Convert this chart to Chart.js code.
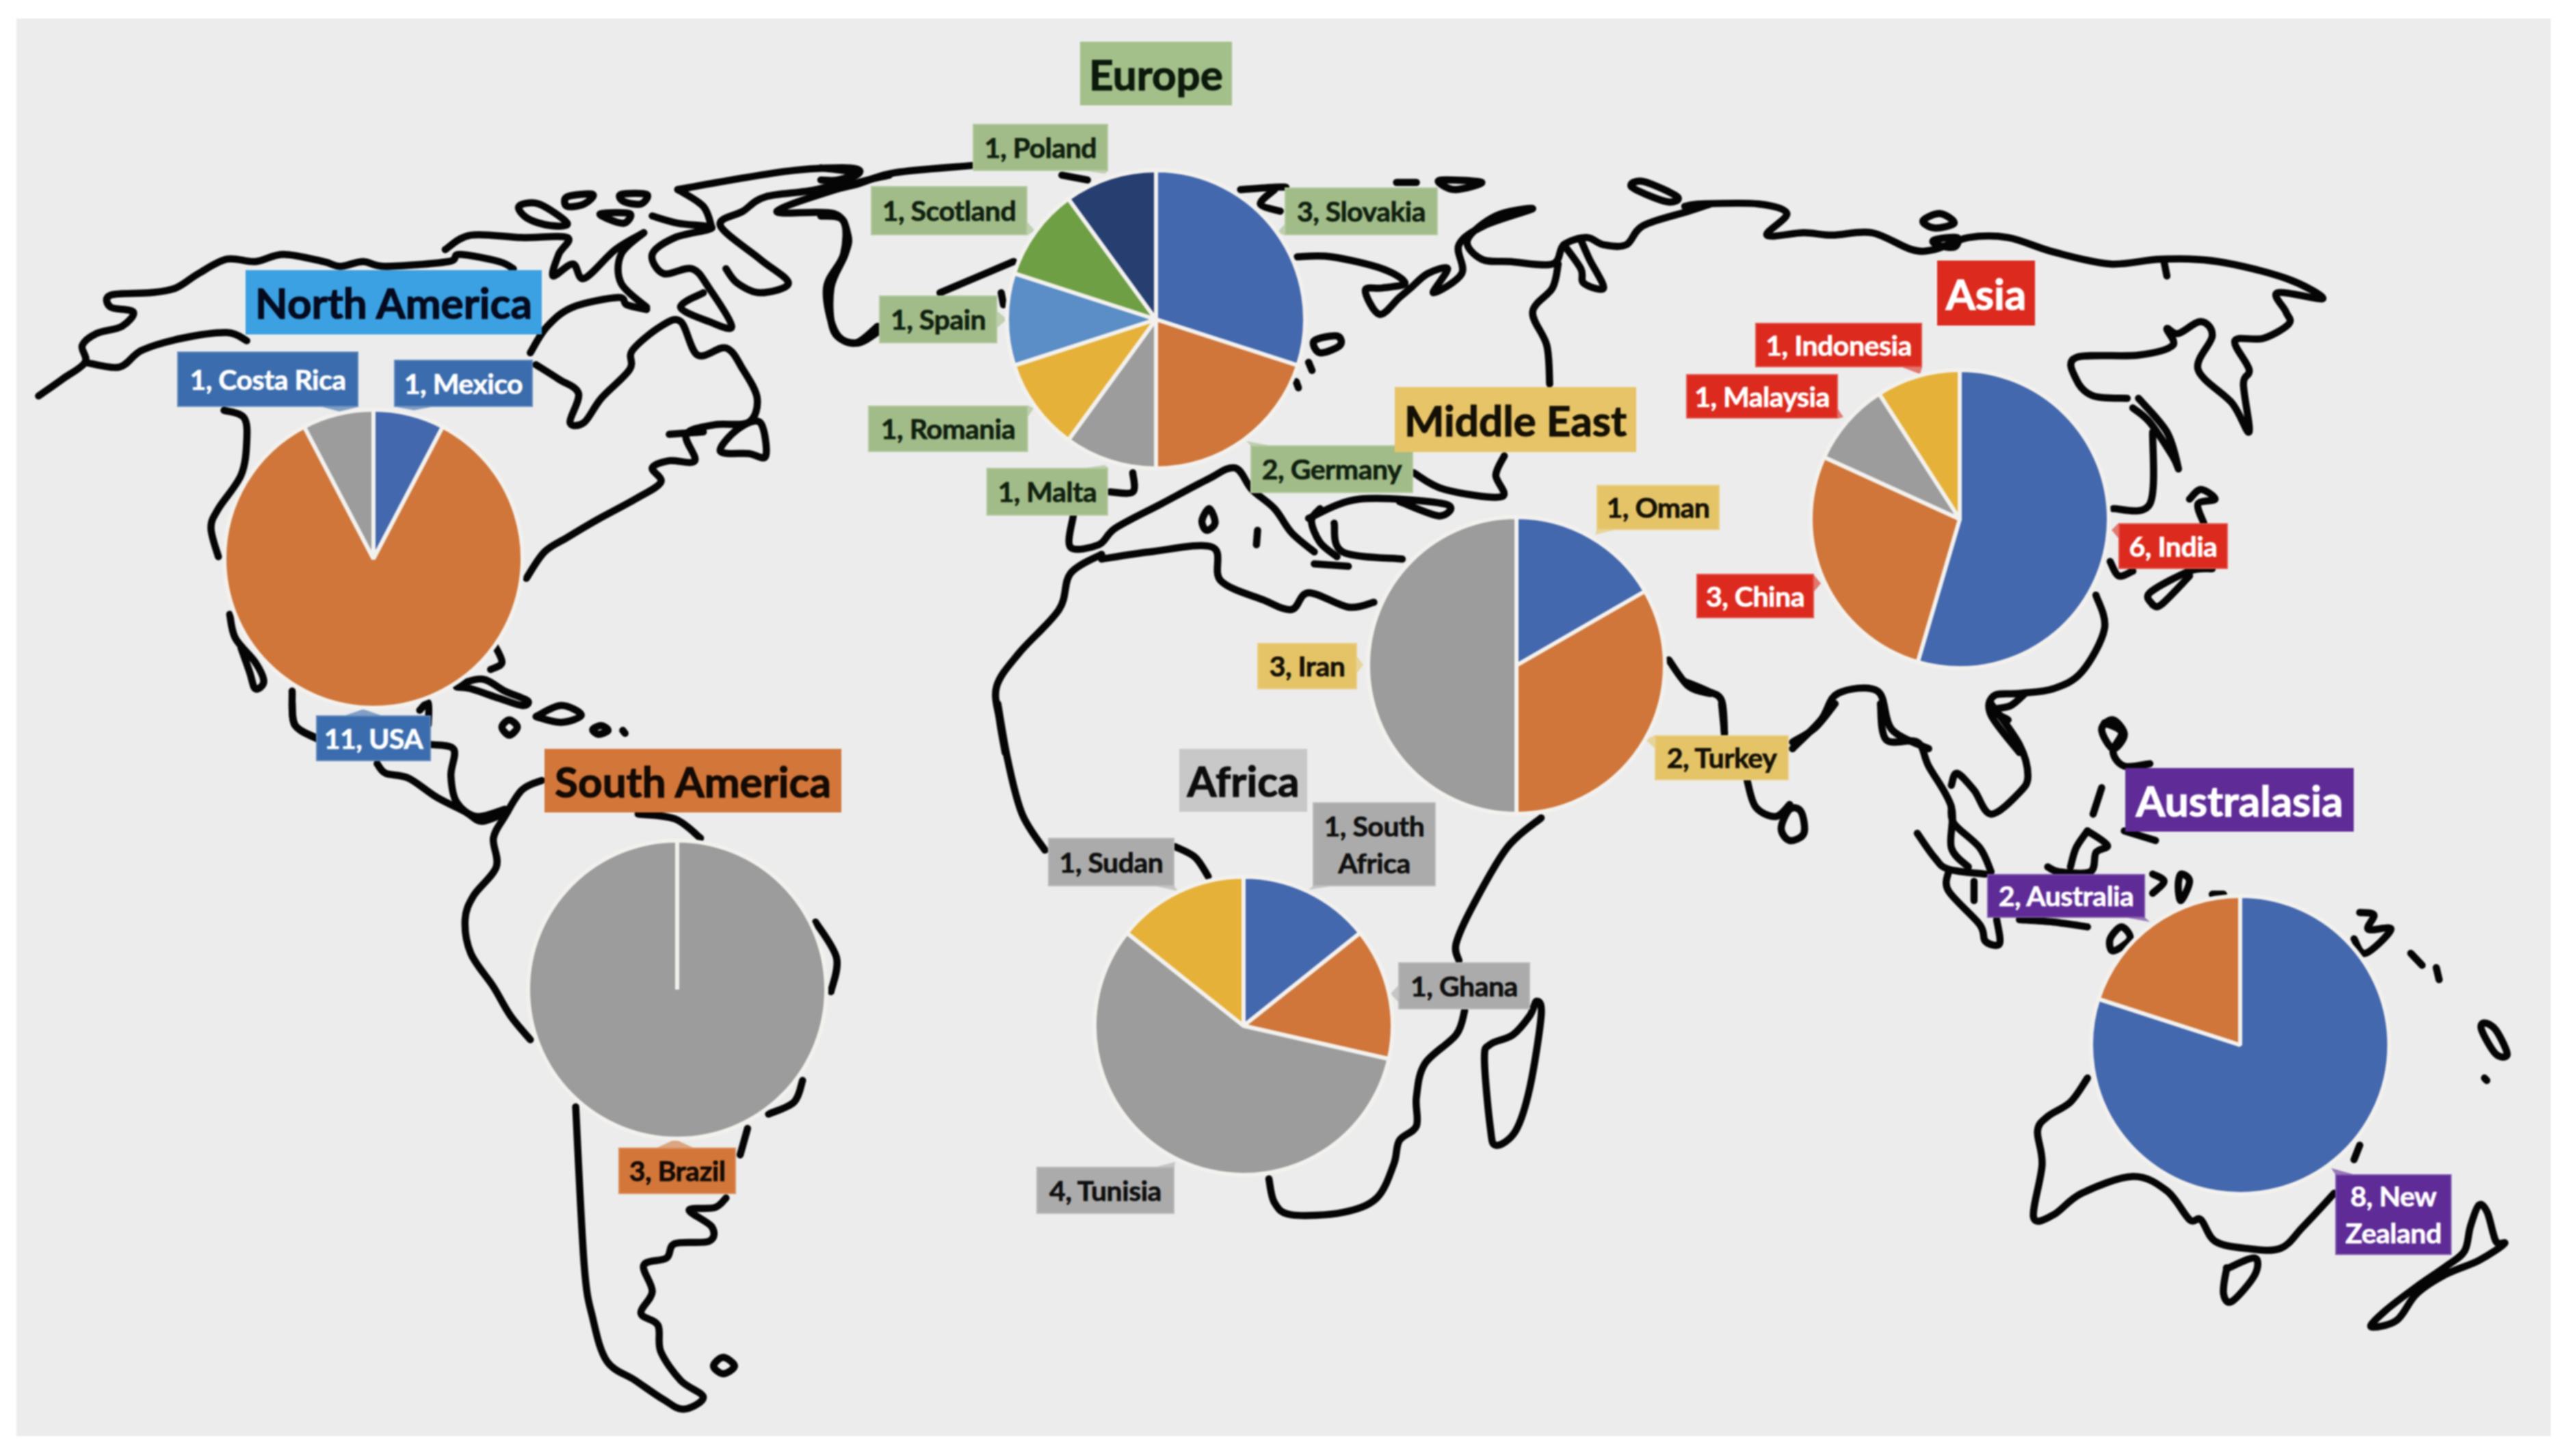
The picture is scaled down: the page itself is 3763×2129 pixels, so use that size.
<!DOCTYPE html>
<html>
<head>
<meta charset="utf-8">
<title>World map of pies</title>
<script src="https://cdn.jsdelivr.net/npm/chart.js@4"></script>
<style>
  html, body { margin: 0; background: #fff; overflow: hidden; }
  #page { position: relative; width: 3763px; height: 2129px; font-family: Lato, sans-serif; font-weight: 700; filter: blur(1px); }
  #panel { position: absolute; left: 24px; top: 27px; width: 3705px; height: 2073px; background: #ececec; }
  #map { position: absolute; left: 0; top: 0; }
  .pie { position: absolute; }
  .tag { position: absolute; box-sizing: border-box; display: flex; align-items: center; justify-content: center;
         text-align: center; line-height: 54px; font-size: 41px; letter-spacing: -0.5px; -webkit-text-stroke: 0.7px currentColor;
         border: 2px solid rgba(255,255,255,0.18); }
  .title { font-size: 62px; border: 0; letter-spacing: 0; white-space: nowrap; -webkit-text-stroke: 1.2px currentColor; }
</style>
</head>
<body>
<div id="page">
  <div id="panel"></div>
  <svg id="map" width="3763" height="2129"></svg>
</div>
<script>
// =====================
// Data
// =====================
var naCountries = ["Mexico", "USA", "Costa Rica"];
var naValues = [1, 11, 1];

var euCountries = ["Slovakia", "Germany", "Malta", "Romania", "Spain", "Scotland", "Poland"];
var euValues = [3, 2, 1, 1, 1, 1, 1];

var meCountries = ["Oman", "Turkey", "Iran"];
var meValues = [1, 2, 3];

var asCountries = ["India", "China", "Malaysia", "Indonesia"];
var asValues = [6, 3, 1, 1];

var saCountries = ["Brazil"];
var saValues = [3];

var afCountries = ["South Africa", "Ghana", "Tunisia", "Sudan"];
var afValues = [1, 1, 4, 1];

var auCountries = ["New Zealand", "Australia"];
var auValues = [8, 2];

var blue = '#4468ae', orange = '#d0763a', gray = '#9c9c9c', yellow = '#e6b138',
    lightBlue = '#5b8dc6', green = '#6f9f45', navy = '#263f70';

// boxes: x0, y0, x1, y1, tip x, tip y (same order as the countries)
var regions = [
  { id: 'na', title: 'North America', titleBox: [359, 395, 792, 489], titleColor: '#3ba1e2', titleText: '#050a1e',
    countries: naCountries, values: naValues, colors: [blue, orange, gray],
    cx: 546, cy: 817, r: 218, tag: '#3b6cad', text: '#fff',
    boxes: [[576, 526, 779, 595, 605, 600], [462, 1046, 630, 1113, 531, 1037], [259, 514, 524, 595, 497, 602]] },
  { id: 'eu', title: 'Europe', titleBox: [1579, 61, 1801, 154], titleColor: '#a3bf8a', titleText: '#0c1a0c',
    countries: euCountries, values: euValues, colors: [blue, orange, gray, yellow, lightBlue, green, navy],
    cx: 1690, cy: 467, r: 218, tag: '#a1bc88', text: '#10200f',
    boxes: [[1878, 274, 2102, 344, 1867, 340], [1828, 651, 2066, 721, 1822, 645], [1442, 684, 1620, 754, 1615, 680],
            [1269, 593, 1503, 661, 1511, 597], [1285, 432, 1458, 502, 1472, 467], [1273, 272, 1502, 344, 1513, 337],
            [1422, 181, 1620, 250, 1615, 254]] },
  { id: 'me', title: 'Middle East', titleBox: [2039, 566, 2392, 661], titleColor: '#e8c468', titleText: '#141005',
    countries: meCountries, values: meValues, colors: [blue, orange, gray],
    cx: 2217, cy: 973, r: 217, tag: '#e5c468', text: '#141005',
    boxes: [[2334, 709, 2514, 775, 2332, 782], [2419, 1075, 2615, 1141, 2406, 1082], [1838, 940, 1984, 1008, 1993, 972]] },
  { id: 'as', title: 'Asia', titleBox: [2832, 381, 2975, 476], titleColor: '#dc2a1e', titleText: '#fff',
    countries: asCountries, values: asValues, colors: [blue, orange, gray, yellow],
    cx: 2865, cy: 759, r: 218, tag: '#dc2a1e', text: '#fff',
    boxes: [[3097, 765, 3257, 832, 3087, 775], [2480, 839, 2652, 904, 2662, 853], [2465, 547, 2687, 612, 2695, 610],
            [2566, 472, 2810, 537, 2807, 547]] },
  { id: 'sa', title: 'South America', titleBox: [796, 1095, 1230, 1188], titleColor: '#d2763a', titleText: '#140a04',
    countries: saCountries, values: saValues, colors: [gray],
    cx: 990, cy: 1447, r: 218, tag: '#d2763a', text: '#140a04',
    boxes: [[904, 1678, 1076, 1746, 987, 1666]] },
  { id: 'af', title: 'Africa', titleBox: [1724, 1095, 1911, 1187], titleColor: '#c8c8c8', titleText: '#0c0c0c',
    countries: afCountries, values: afValues, colors: [blue, orange, gray, yellow],
    cx: 1818, cy: 1500, r: 218, tag: '#ababab', text: '#0f0f0f',
    boxes: [[1919, 1173, 2099, 1296, 1913, 1301], [2044, 1407, 2237, 1476, 2033, 1453], [1515, 1706, 1717, 1775, 1718, 1699],
            [1532, 1225, 1717, 1296, 1722, 1303]] },
  { id: 'au', title: 'Australasia', titleBox: [3107, 1123, 3441, 1216], titleColor: '#5f2b96', titleText: '#fff',
    countries: auCountries, values: auValues, colors: [blue, orange],
    cx: 3275, cy: 1528, r: 218, tag: '#5f2b96', text: '#fff',
    boxes: [[3414, 1717, 3584, 1835, 3408, 1708], [2905, 1278, 3136, 1342, 3143, 1348]] }
];

// =====================
// Map outline, traced by hand. Each group has an origin and a scale.
// =====================
var coastGroups = [
  { ox: 0, oy: 0, lines: [
    [68,825,110,790,150,755,145,720,170,695,215,680,235,650,195,640,195,615,265,610,310,600,350,570,400,540,450,545,500,530,570,545,600,555,640,545,680,555,790,545,810,530,880,545,905,560],
    [150,755,210,765,250,730,320,705,400,693,435,710],
    [395,855,430,870,435,920,425,990,385,1060,372,1100,385,1160],
    [405,1280,415,1330,450,1380,465,1420,450,1435,440,1400,425,1350],
    [515,1440,520,1510,560,1540],
    [945,760,985,790,1020,820,1005,880,1030,880,1060,830,1110,770,1115,730,1165,680,1200,670,1230,740,1280,725,1310,770,1335,830,1320,880,1260,885,1210,905,1225,960,1180,960,1150,975,1165,1005,1120,1040,1050,1085,1000,1120,960,1150,928,1205],
    [935,735,965,680,1010,640,1090,620,1105,635,1140,645],
    [915,430,950,425,1000,465,970,470,930,455,915,430],
    [1000,410,1045,405,1030,425,1000,430,1000,410],
    [1095,405,1140,405,1130,425,1100,420,1095,405],
    [1060,445,1110,445,1100,465,1070,455,1060,445],
    [785,520,830,490,920,495,1000,495,985,530,975,575,1010,550,1030,580,1085,520,1135,485],
    [1135,485,1095,530,1095,590,1140,640],
    [1150,450,1195,465,1255,475,1190,495,1150,530,1170,570,1220,560,1250,600,1290,680,1250,670,1200,640,1240,610],
    [1195,395,1290,375,1400,355,1500,350,1510,365,1440,395,1350,410,1310,440,1270,470,1340,540,1390,590,1340,610,1300,590,1280,560],
    [1195,395,1240,430,1255,475],
    [1568,365,1500,385,1370,440,1470,445,1495,490,1490,530,1465,600,1470,690,1510,715,1550,690],
    [1180,905,1240,900],
    [1270,940,1300,895,1340,880,1350,950,1320,945,1270,940],
    [805,1430,850,1415,890,1440,930,1460,920,1470,880,1455,830,1435,805,1430],
    [950,1490,990,1470,1025,1490,990,1505,950,1495,950,1490],
    [885,1515,898,1500,912,1515,898,1532,885,1515],
    [1045,1520,1060,1512,1072,1522,1055,1530,1045,1520],
    [1098,1522,1102,1528],
    [870,1340,885,1380,865,1395],
    [740,1480,755,1465,755,1510]
  ]},
  { ox: 0, oy: 1029, lines: [
    [515,0,520,45,555,70],
    [665,125,680,145,720,155,770,195,820,225,850,245,895,225],
    [760,85,800,95,795,150,805,205,840,235,890,220],
    [955,160,920,180,890,235,870,280,875,340,835,400,820,450,830,520,870,590,900,650,935,700],
    [1125,230,1190,240,1235,280],
    [1438,455,1475,530,1465,600],
    [1415,785,1400,830,1355,855],
    [1318,885,1305,940],
    [1280,1030,1260,1050,1215,1055,1255,1090,1250,1120,1190,1125,1175,1155,1135,1170,1150,1225,1130,1270,1160,1295,1165,1350,1200,1410,1240,1445,1205,1470,1170,1450,1120,1410,1070,1370,1045,1280,1030,1170,1015,840],
    [1258,1380,1275,1362,1295,1380,1275,1396,1258,1380]
  ]},
  { ox: 1200, oy: 0, lines: [
    [0,400,60,385,130,360,265,345],
    [0,350,60,360,30,375,0,375],
    [0,450,40,460,40,530,10,600,25,690,60,715,100,680],
    [210,610,340,545],
    [425,365,470,375],
    [318,610,322,635],
    [740,395,800,390,820,390],
    [800,395,775,425,810,440],
    [1015,380,1050,380],
    [1095,375,1165,380,1120,395,1095,385,1095,375],
    [840,535,900,535,990,560,1030,590,990,600,960,605,985,655,1020,620,1040,600,1070,570,1105,560,1080,610,1130,570,1125,510,1170,470,1255,435,1190,450,1140,500,1165,540,1215,545,1290,550,1310,510,1350,495,1380,510,1420,510,1450,470,1530,440,1568,425],
    [1310,510,1340,560,1345,590,1380,600,1355,540,1340,500],
    [1300,550,1290,600,1255,650,1280,720,1285,800],
    [1430,390,1450,378,1510,410,1490,420,1430,390],
    [870,710,910,700,915,720,880,735,870,710],
    [860,755,866,772],
    [838,795,842,808],
    [1045,985,1100,1020,1200,1035,1190,990,1205,950],
    [510,1025,550,1025,550,985],
    [445,1075,440,1140,490,1135,520,1100,600,1050,680,1000,730,975,760,1020,800,1060,830,1110,870,1150],
    [880,1060,865,1085,880,1130,910,1160],
    [905,1090,920,1150,1025,1165],
    [860,1080,950,1040,1100,1050,1090,1075,1020,1045],
    [770,1105,768,1135],
    [685,1060,695,1090,680,1105,672,1085,685,1060],
    [870,1175,930,1180],
    [495,1155,440,1195,420,1270,350,1360,310,1430,315,1500,325,1568],
    [495,1165,580,1150,690,1140,705,1210,780,1250,830,1270,860,1235,930,1265,975,1255],
    [1495,1375,1530,1430,1568,1445]
  ]},
  { ox: 1200, oy: 1029, lines: [
    [312,0,330,120,355,230,395,305],
    [625,298,660,320,683,360],
    [1270,238,1210,300,1150,420,1120,500,1125,535],
    [1135,640,1120,690,1065,750,1050,820,1050,880,1020,910,1010,960,980,1030,920,1060,830,1065,800,1040,790,990],
    [1262,620,1270,650,1250,800,1225,890,1190,920,1180,880,1170,740,1180,710,1220,690,1250,650,1262,620]
  ]},
  { ox: 2463, oy: 0, lines: [
    [0,430,30,425,130,425,180,445,145,490,210,485,260,490,330,485,400,520,440,520,500,495,570,495,650,525,750,550,840,540,940,545,1060,580,1125,622,1045,610,1060,650,1065,675,1020,705,970,710,995,770,985,800,995,900,965,840,905,770,930,700,910,670,870,695,850,685,860,720,800,740,690,745,690,790,720,825,780,830],
    [420,460,450,445,475,465,440,475,420,460],
    [440,500,480,495,475,515,445,510,440,500],
    [845,545,850,575],
    [800,830,850,900,870,975,860,950,820,880,790,850],
    [825,900,820,1050,755,1060],
    [890,1040,910,1020,935,1040,905,1050,915,1090],
    [825,1260,820,1235,890,1190,930,1185],
    [825,1260,840,1260,890,1200],
    [750,1170,765,1200,790,1190],
    [725,1240,740,1310,700,1400,650,1435,590,1445,545,1450,540,1490,590,1568],
    [600,1445,575,1470,545,1480,570,1500],
    [755,1500,775,1530,755,1560,735,1520,755,1500],
    [0,1420,40,1440,65,1460,70,1530],
    [190,1560,240,1500,270,1445,340,1440,365,1520,430,1560]
  ]},
  { ox: 2463, oy: 1029, lines: [
    [65,0,70,60],
    [265,0,230,50,190,80],
    [110,160,125,215,160,235,185,210],
    [185,220,205,225,210,270,185,285,170,260,185,220],
    [345,0,355,75,410,80,430,130,470,215,470,300,500,340],
    [540,0,590,85,605,150,590,185,540,230,510,180,480,145,470,170],
    [470,215,475,250,520,300,540,350],
    [410,270,440,320,465,345,530,355],
    [465,350,465,390,520,460,530,495,555,500,550,450],
    [510,370,510,410],
    [590,450,650,455,710,465],
    [740,40,770,60,755,100,775,130,820,125],
    [735,175,720,230],
    [710,265,745,295,725,310,715,350,660,350,640,340],
    [710,265,690,300,680,340],
    [775,265,830,285],
    [825,355,845,370,825,395],
    [875,355,890,370,875,410,870,380,875,355],
    [930,397,950,397],
    [770,465,785,490,755,515,750,490,770,465],
    [1190,435,1215,440,1205,470,1245,470,1200,520,1180,490],
    [1280,520,1300,545],
    [1325,550,1330,575],
    [1410,665,1430,680,1450,730,1430,730,1405,680,1410,665],
    [1410,780,1414,785],
    [710,780,680,830,640,860,622,890,630,960,615,1070,650,1065,700,1020,790,985,850,1015,890,1075,910,1075,935,1120,990,1135,1050,1135,1090,1090,1145,1020],
    [1190,920,1180,950],
    [960,1175,1005,1155,1005,1190,965,1245,950,1230,955,1180,960,1175],
    [1385,1090,1400,1045,1415,1060,1430,1120,1445,1125,1400,1160,1340,1190,1290,1230,1255,1285,1210,1298,1235,1265,1290,1215,1345,1170,1375,1140,1385,1090]
  ]}
];

var SVG_NS = 'http://www.w3.org/2000/svg';
var mapSvg = document.getElementById('map');
var page = document.getElementById('page');

// catmull-rom through the traced points, closed lines wrap round
function coastPath(line, ox, oy) {
  var pts = [];
  for (var i = 0; i < line.length; i += 2) {
    pts.push([ox + line[i] / 1.206, oy + line[i + 1] / 1.425]);
  }
  var n = pts.length;
  var closed = n > 3 && line[0] === line[line.length - 2] && line[1] === line[line.length - 1];
  function at(k) {
    if (closed) return pts[((k % (n - 1)) + (n - 1)) % (n - 1)];
    return pts[Math.max(0, Math.min(n - 1, k))];
  }
  var d = 'M' + pts[0][0] + ' ' + pts[0][1];
  for (var j = 0; j < n - 1; j++) {
    var p0 = at(j - 1), p1 = at(j), p2 = at(j + 1), p3 = at(j + 2);
    d += ' C' + (p1[0] + (p2[0] - p0[0]) / 6) + ' ' + (p1[1] + (p2[1] - p0[1]) / 6) +
         ' ' + (p2[0] - (p3[0] - p1[0]) / 6) + ' ' + (p2[1] - (p3[1] - p1[1]) / 6) +
         ' ' + p2[0] + ' ' + p2[1];
  }
  return d;
}

coastGroups.forEach(function (g) {
  g.lines.forEach(function (line) {
    var p = document.createElementNS(SVG_NS, 'path');
    p.setAttribute('d', coastPath(line, g.ox, g.oy));
    p.setAttribute('fill', 'none');
    p.setAttribute('stroke', '#050505');
    p.setAttribute('stroke-width', '10.5');
    p.setAttribute('stroke-linecap', 'round');
    p.setAttribute('stroke-linejoin', 'round');
    mapSvg.appendChild(p);
  });
});

// =====================
// Labels and pies
// =====================
function addTag(text, box, bg, color, cls) {
  var el = document.createElement('div');
  el.className = cls;
  el.textContent = text;
  el.style.left = box[0] + 'px';
  el.style.top = box[1] + 'px';
  el.style.width = (box[2] - box[0]) + 'px';
  el.style.height = (box[3] - box[1]) + 'px';
  el.style.background = bg;
  el.style.color = color;
  el.style.zIndex = 3;
  page.appendChild(el);
}

// little callout wedge from the label towards its slice
function addTail(box, bg) {
  var tx = box[4], ty = box[5];
  var ex = Math.min(Math.max(tx, box[0]), box[2]), ey = Math.min(Math.max(ty, box[1]), box[3]);
  var a, b;
  if (ty < box[1] || ty > box[3]) {
    a = [Math.max(ex - 26, box[0]), ey];
    b = [Math.min(ex + 26, box[2]), ey];
  } else {
    a = [ex, Math.max(ey - 12, box[1])];
    b = [ex, Math.min(ey + 12, box[3])];
  }
  var poly = document.createElementNS(SVG_NS, 'polygon');
  poly.setAttribute('points', [a, b, [tx, ty]].map(function (p) { return p.join(','); }).join(' '));
  poly.setAttribute('fill', bg);
  poly.setAttribute('fill-opacity', '0.6');
  mapSvg.appendChild(poly);
}

regions.forEach(function (reg) {
  var size = reg.r * 2 + 6;
  var wrap = document.createElement('div');
  wrap.className = 'pie';
  wrap.style.left = (reg.cx - size / 2) + 'px';
  wrap.style.top = (reg.cy - size / 2) + 'px';
  wrap.style.width = size + 'px';
  wrap.style.height = size + 'px';
  wrap.style.zIndex = 2;
  var canvas = document.createElement('canvas');
  canvas.id = reg.id;
  wrap.appendChild(canvas);
  page.appendChild(wrap);

  new Chart(canvas.getContext('2d'), {
    type: 'pie',
    data: {
      labels: reg.countries,
      datasets: [{
        data: reg.values,
        backgroundColor: reg.colors,
        borderColor: '#f3f1ee',
        borderWidth: 6
      }]
    },
    options: {
      responsive: true,
      maintainAspectRatio: false,
      animation: false,
      layout: { padding: 0 },
      plugins: { legend: { display: false }, tooltip: { enabled: false } }
    }
  });

  addTag(reg.title, reg.titleBox, reg.titleColor, reg.titleText, 'tag title');
  reg.boxes.forEach(function (box, i) {
    addTail(box, reg.tag);
    addTag(reg.values[i] + ', ' + reg.countries[i], box, reg.tag, reg.text, 'tag');
  });
});
</script>
</body>
</html>
